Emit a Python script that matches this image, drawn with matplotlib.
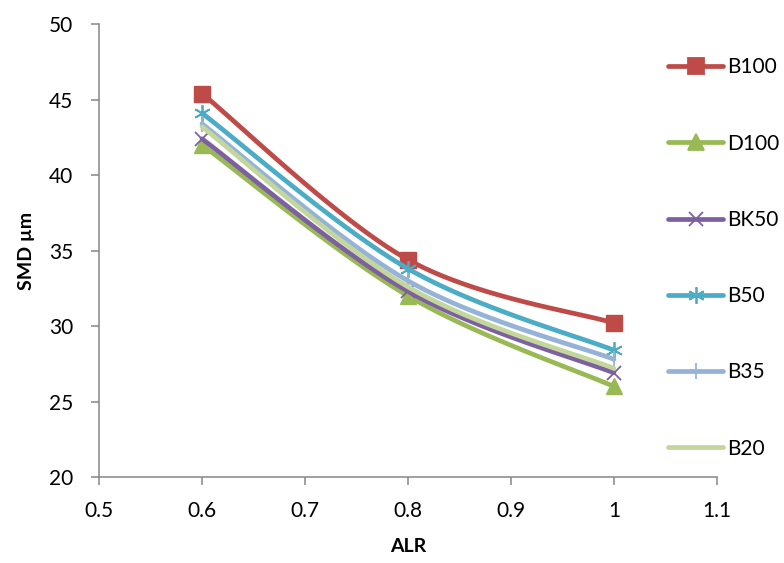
import matplotlib
matplotlib.use("Agg")
import matplotlib.pyplot as plt
import numpy as np

plt.rcParams["font.family"] = ["Lato", "DejaVu Sans"]

alr = [0.6, 0.8, 1.0]
b100 = [45.4, 34.4, 30.2]
d100 = [42.0, 32.0, 26.0]
bk50 = [42.4, 32.3, 26.9]
b50 = [44.1, 33.8, 28.4]
b35 = [43.4, 33.0, 27.8]
b20 = [43.2, 32.6, 27.2]

series = [
    ("B100", b100, "#BE4B48", "s", 11, 1.0),
    ("D100", d100, "#98B954", "^", 12, 1.0),
    ("BK50", bk50, "#7D60A0", "x", 10, 1.2),
    ("B50", b50, "#4BACC6", (6, 2, 0), 12, 1.2),
    ("B35", b35, "#95B3D7", "|", 12, 1.2),
    ("B20", b20, "#C3D69B", None, 0, 1.0),
]


def smooth(x, y, n=40):
    # Catmull-Rom style Bezier, close to Excel's smoothed line
    x = np.asarray(x, float); y = np.asarray(y, float)
    px = np.concatenate([[x[0]], x, [x[-1]]])
    py = np.concatenate([[y[0]], y, [y[-1]]])
    xs, ys = [], []
    t = np.linspace(0, 1, n)
    for i in range(1, len(px) - 2):
        p0 = np.array([px[i], py[i]]); p3 = np.array([px[i + 1], py[i + 1]])
        p1 = p0 + (np.array([px[i + 1], py[i + 1]]) - np.array([px[i - 1], py[i - 1]])) / 6
        p2 = p3 - (np.array([px[i + 2], py[i + 2]]) - np.array([px[i], py[i]])) / 6
        c = ((1 - t) ** 3)[:, None] * p0 + (3 * (1 - t) ** 2 * t)[:, None] * p1 \
            + (3 * (1 - t) * t ** 2)[:, None] * p2 + (t ** 3)[:, None] * p3
        xs.append(c[:, 0]); ys.append(c[:, 1])
    return np.concatenate(xs), np.concatenate(ys)


fig = plt.figure(figsize=(7.84, 5.63), dpi=100)
ax = fig.add_axes([0.1263, 0.1527, 0.788, 0.8045])

handles = []
for name, vals, col, mk, ms, mew in series:
    sx, sy = smooth(alr, vals)
    ax.plot(sx, sy, color=col, lw=3.4, solid_capstyle="round")
    if mk is not None:
        filled = mk in ("s", "^")
        ax.plot(alr, vals, ls="none", marker=mk, ms=ms, color=col,
                mec=col, mew=mew if filled else 1.3)
    h, = ax.plot([], [], color=col, lw=3.4, marker=mk, ms=ms, mec=col,
                 mew=1.3, solid_capstyle="round", label=name)
    handles.append(h)

ax.set_xlim(0.5, 1.1)
ax.set_ylim(20, 50)
ax.set_xticks([0.5, 0.6, 0.7, 0.8, 0.9, 1.0, 1.1])
ax.set_xticklabels(["0.5", "0.6", "0.7", "0.8", "0.9", "1", "1.1"])
ax.set_yticks([20, 25, 30, 35, 40, 45, 50])
for s in ["top", "right"]:
    ax.spines[s].set_visible(False)
for s in ["left", "bottom"]:
    ax.spines[s].set_color("#868686")
    ax.spines[s].set_linewidth(1.1)
ax.tick_params(axis="both", colors="#868686", labelcolor="black", labelsize=15,
               length=5.5, width=1.1, direction="out")
ax.tick_params(axis="x", pad=12)
ax.tick_params(axis="y", pad=13)
ax.set_xlabel("ALR", fontsize=14, fontweight="bold", labelpad=12)
ax.set_ylabel("SMD µm", fontsize=14, fontweight="bold", labelpad=10)

fig.legend(handles=handles, loc="upper left", bbox_to_anchor=(0.852, 0.898),
           frameon=False, fontsize=15, handlelength=2.65, handletextpad=0.2,
           labelspacing=2.70, borderaxespad=0, borderpad=0)

fig.savefig("out.png", dpi=100)
